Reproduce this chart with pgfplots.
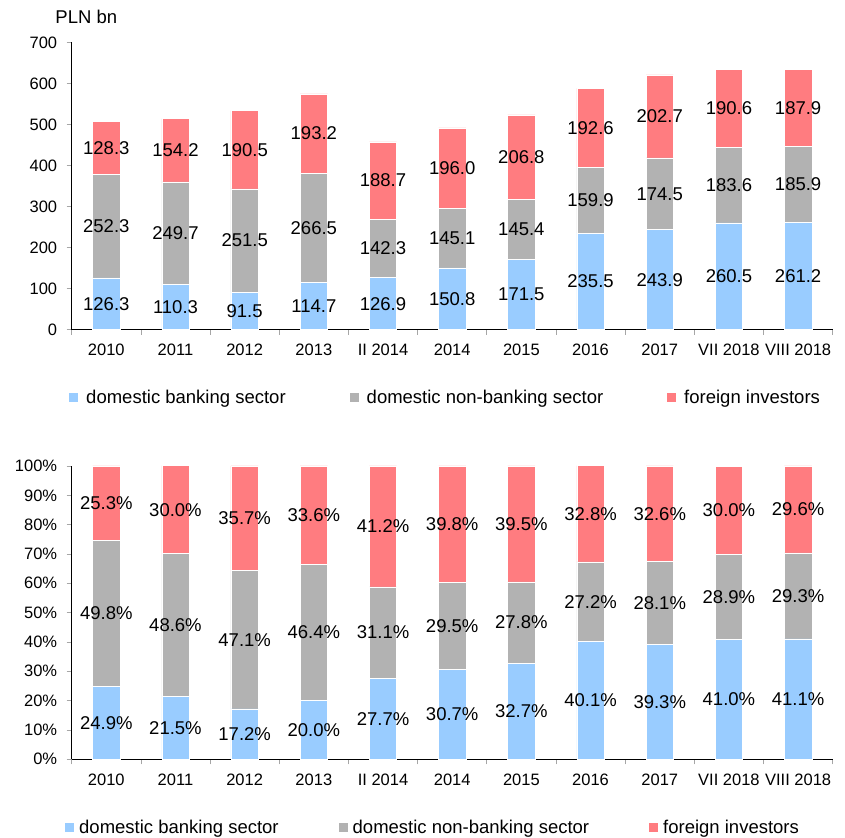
\documentclass[border=0pt]{standalone}
\usepackage{fontspec}
\setmainfont{Liberation Sans}
\usepackage{pgfplots}
\usepackage{pgfplotstable}
\pgfplotsset{compat=1.18}
\definecolor{cbank}{HTML}{99CCFF}
\definecolor{cnon}{HTML}{B2B2B2}
\definecolor{cfor}{HTML}{FF7C80}

\pgfplotstableread{
x bank non fo
0 126.3 252.3 128.3
1 110.3 249.7 154.2
2 91.5 251.5 190.5
3 114.7 266.5 193.2
4 126.9 142.3 188.7
5 150.8 145.1 196.0
6 171.5 145.4 206.8
7 235.5 159.9 192.6
8 243.9 174.5 202.7
9 260.5 183.6 190.6
10 261.2 185.9 187.9
}\toptable

\pgfplotstableread{
x bank non fo
0 24.9 49.8 25.3
1 21.5 48.6 30.0
2 17.2 47.1 35.7
3 20.0 46.4 33.6
4 27.7 31.1 41.2
5 30.7 29.5 39.8
6 32.7 27.8 39.5
7 40.1 27.2 32.8
8 39.3 28.1 32.6
9 41.0 28.9 30.0
10 41.1 29.3 29.6
}\bottable

\pgfplotsset{
  mybase/.style={
    scale only axis,
    clip=false,
    width=761pt,
    xmin=-0.5, xmax=10.5,
    ymin=0,
    ybar stacked,
    bar width=0.395,
    axis x line*=bottom,
    axis y line*=left,
    axis line style={-, black, line width=0.7pt},
    xtick={0,...,10},
    xticklabels={2010,2011,2012,2013,II 2014,2014,2015,2016,2017,VII 2018,VIII 2018},
    minor xtick={-0.5,0.5,...,10.5},
    tick align=outside,
    major tick length=5pt,
    minor tick length=5pt,
    major x tick style={draw=none},
    minor x tick style={draw=gray!70, line width=0.6pt},
    y tick style={draw=gray!70, line width=0.6pt},
    ticklabel style={font=\fontsize{16.5}{20}\selectfont},
    xticklabel style={yshift=-6pt},
    yticklabel style={xshift=-6pt},
    legend columns=3,
    legend image code/.code={\fill[#1, draw=none] (0pt,-4.5pt) rectangle (9pt,4.5pt);},
    point meta=explicit,
    /pgf/number format/assume math mode=true,
    nodes near coords={\pgfmathprintnumber[fixed,fixed zerofill,precision=1,assume math mode=true]{\pgfplotspointmeta}},
    nodes near coords align={anchor=center},
    every node near coord/.append style={font=\fontsize{18.5}{22}\selectfont, inner sep=0pt},
    every axis plot/.append style={draw=white, line width=0.5pt},
  },
}

\begin{document}
\begin{tikzpicture}
\useasboundingbox (0pt,0pt) rectangle (845pt,837pt);

% ---------- top chart ----------
\begin{axis}[mybase,
  at={(71.7pt,507.3pt)}, anchor=south west,
  height=287.3pt,
  ymax=700,
  ytick={0,100,...,700},
  yticklabels={0,100,200,300,400,500,600,700},
  legend style={at={(-0.0035,-0.2377)}, anchor=west, draw=none, fill=none, inner sep=0pt,
    font=\fontsize{18.5}{22}\selectfont,
    /tikz/every odd column/.append style={column sep=6pt},
    /tikz/every even column/.append style={column sep=62pt}},
]
\addplot[fill=cbank] table[x=x, y=bank, meta=bank] {\toptable};
\addplot[fill=cnon] table[x=x, y=non, meta=non] {\toptable};
\addplot[fill=cfor] table[x=x, y=fo, meta=fo] {\toptable};
\legend{domestic banking sector, domestic non-banking sector, foreign investors}
\node[font=\fontsize{18.5}{22}\selectfont, anchor=center] at (axis description cs:0.0192,1.0884) {PLN bn};
\end{axis}

% ---------- bottom chart ----------
\begin{axis}[mybase,
  at={(71.7pt,77.7pt)}, anchor=south west,
  height=293.3pt,
  ymax=100,
  ytick={0,10,...,100},
  yticklabels={0\%,10\%,20\%,30\%,40\%,50\%,60\%,70\%,80\%,90\%,100\%},
  nodes near coords={\pgfmathprintnumber[fixed,fixed zerofill,precision=1,assume math mode=true]{\pgfplotspointmeta}\%},
  legend style={at={(-0.0088,-0.2325)}, anchor=west, draw=none, fill=none, inner sep=0pt,
    font=\fontsize{18.5}{22}\selectfont,
    /tikz/every odd column/.append style={column sep=3pt},
    /tikz/every even column/.append style={column sep=58pt}},
]
\addplot[fill=cbank] table[x=x, y=bank, meta=bank] {\bottable};
\addplot[fill=cnon] table[x=x, y=non, meta=non] {\bottable};
\addplot[fill=cfor] table[x=x, y=fo, meta=fo] {\bottable};
\legend{domestic banking sector, domestic non-banking sector, foreign investors}
\end{axis}
\end{tikzpicture}
\end{document}
